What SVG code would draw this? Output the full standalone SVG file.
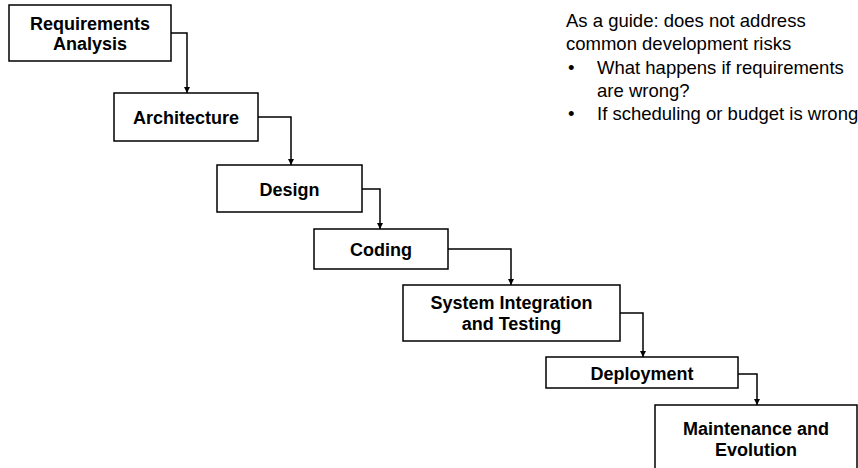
<svg xmlns="http://www.w3.org/2000/svg" width="858" height="468" viewBox="0 0 858 468">
<defs>
<style>
.box{fill:#fff;stroke:#000;stroke-width:1.5}
.lbl{font-family:"Liberation Sans",Arial,sans-serif;font-weight:bold;font-size:18px;fill:#000;text-anchor:middle}
.note{font-family:"Liberation Sans",Arial,sans-serif;font-size:18.5px;fill:#000}
.con{fill:none;stroke:#000;stroke-width:1.5;marker-end:url(#ah)}
</style>
<marker id="ah" viewBox="0 0 10 10" refX="10" refY="5" markerWidth="6" markerHeight="6" markerUnits="userSpaceOnUse" orient="auto">
<path d="M0,0 L10,5 L0,10 z" fill="#000"/>
</marker>
</defs>
<rect width="858" height="468" fill="#fff"/>
<g id="connectors">
<path class="con" d="M171,33 H187 V93"/>
<path class="con" d="M258,117 H291 V165"/>
<path class="con" d="M362,189 H380 V229"/>
<path class="con" d="M448,249 H511 V285"/>
<path class="con" d="M620,313 H643 V357"/>
<path class="con" d="M738,374 H757 V405"/>
</g>
<g id="n1"><rect class="box" x="9" y="5" width="162" height="56"/><text class="lbl" x="90" y="30">Requirements</text><text class="lbl" x="90" y="50">Analysis</text></g>
<g id="n2"><rect class="box" x="114" y="93" width="144" height="48"/><text class="lbl" x="186" y="124">Architecture</text></g>
<g id="n3"><rect class="box" x="217" y="165" width="145" height="47"/><text class="lbl" x="289.5" y="196">Design</text></g>
<g id="n4"><rect class="box" x="314" y="229" width="134" height="40"/><text class="lbl" x="381" y="256">Coding</text></g>
<g id="n5"><rect class="box" x="403" y="285" width="217" height="56"/><text class="lbl" x="511.5" y="309">System Integration</text><text class="lbl" x="511.5" y="330">and Testing</text></g>
<g id="n6"><rect class="box" x="546" y="357" width="192" height="31"/><text class="lbl" x="642" y="380">Deployment</text></g>
<g id="n7"><rect class="box" x="655" y="405" width="202" height="80"/><text class="lbl" x="756" y="435">Maintenance and</text><text class="lbl" x="756" y="456">Evolution</text></g>
<g id="notes">
<text class="note" x="566" y="27">As a guide: does not address</text>
<text class="note" x="566" y="50">common development risks</text>
<text class="note" x="568" y="74">•</text>
<text class="note" x="597" y="74">What happens if requirements</text>
<text class="note" x="597" y="97">are wrong?</text>
<text class="note" x="568" y="120">•</text>
<text class="note" x="597" y="120">If scheduling or budget is wrong</text>
</g>
</svg>
